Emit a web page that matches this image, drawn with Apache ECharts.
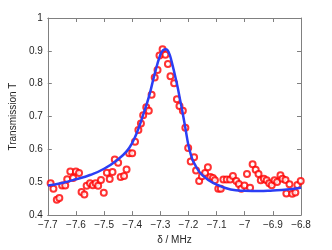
<!DOCTYPE html>
<html><head><meta charset="utf-8">
<script src="https://cdn.jsdelivr.net/npm/echarts@6/dist/echarts.min.js"></script>
<style>html,body{margin:0;padding:0;background:#fff}#c{width:332px;height:250px}</style>
</head><body><div id="c"></div>
<script>
const dataX = [-7.690,-7.680,-7.668,-7.659,-7.649,-7.638,-7.631,-7.620,-7.610,-7.600,-7.589,-7.580,-7.570,-7.562,-7.550,-7.540,-7.530,-7.521,-7.511,-7.501,-7.490,-7.480,-7.470,-7.462,-7.450,-7.441,-7.429,-7.420,-7.411,-7.400,-7.390,-7.378,-7.369,-7.361,-7.350,-7.341,-7.331,-7.320,-7.310,-7.303,-7.292,-7.282,-7.273,-7.264,-7.251,-7.241,-7.232,-7.220,-7.211,-7.201,-7.192,-7.180,-7.173,-7.162,-7.152,-7.141,-7.131,-7.122,-7.113,-7.106,-7.094,-7.085,-7.076,-7.064,-7.052,-7.042,-7.030,-7.021,-7.012,-7.001,-6.992,-6.981,-6.972,-6.961,-6.951,-6.943,-6.932,-6.922,-6.913,-6.904,-6.894,-6.885,-6.873,-6.866,-6.855,-6.852,-6.841,-6.831,-6.820,-6.813,-6.801];
const dataY = [0.497,0.480,0.447,0.452,0.490,0.490,0.509,0.533,0.513,0.533,0.528,0.470,0.463,0.489,0.497,0.491,0.497,0.489,0.507,0.468,0.529,0.510,0.531,0.569,0.559,0.516,0.519,0.539,0.588,0.588,0.623,0.659,0.679,0.704,0.728,0.718,0.766,0.819,0.842,0.886,0.905,0.888,0.860,0.823,0.801,0.753,0.732,0.718,0.666,0.604,0.563,0.576,0.536,0.504,0.518,0.528,0.546,0.516,0.513,0.506,0.480,0.480,0.508,0.508,0.508,0.519,0.504,0.495,0.480,0.490,0.525,0.483,0.555,0.538,0.525,0.506,0.511,0.506,0.497,0.491,0.506,0.501,0.521,0.511,0.507,0.466,0.494,0.465,0.469,0.492,0.504];
const fitX = [-7.70,-7.65,-7.60,-7.55,-7.50,-7.45,-7.42,-7.40,-7.38,-7.36,-7.34,-7.32,-7.30,-7.29,-7.28,-7.27,-7.26,-7.24,-7.23,-7.22,-7.21,-7.20,-7.19,-7.18,-7.15,-7.10,-7.05,-7.00,-6.95,-6.90,-6.85,-6.80];
const fitY = [0.490,0.498,0.509,0.522,0.541,0.570,0.594,0.620,0.658,0.708,0.762,0.830,0.888,0.902,0.905,0.895,0.868,0.795,0.752,0.708,0.660,0.612,0.580,0.558,0.521,0.493,0.478,0.474,0.473,0.475,0.478,0.483];
const xTicks = {min: -7.7, max: -6.8, step: 0.1};
const yTicks = {min: 0.4, max: 1.0, step: 0.1};

const fmtX = v => { const s = (Math.round(v*10)/10).toString(); return s.replace('-', '\u2212'); };
const fmtY = v => (Math.round(v*10)/10).toString();
const axLine = {lineStyle:{color:'#808080', width:1}};
const tick = {inside:true, length:4, lineStyle:{color:'#808080'}};
const lbl = {color:'#262626', fontSize:10, fontFamily:'Liberation Sans, Arial, sans-serif'};

const chart = echarts.init(document.getElementById('c'), null, {renderer:'canvas'});
chart.setOption({
  animation:false,
  grid:{left:43, right:31, top:18, bottom:29},
  xAxis:[{
    type:'value', min:xTicks.min, max:xTicks.max, interval:xTicks.step,
    axisLine:axLine, axisTick:tick, splitLine:{show:false},
    axisLabel:Object.assign({formatter:fmtX, margin:5, showMinLabel:true, showMaxLabel:true}, lbl),
    name:'\u03b4 / MHz', nameLocation:'middle', nameGap:17,
    nameTextStyle:{color:'#262626', fontSize:10, fontFamily:'Liberation Sans, Arial, sans-serif'}
  },{
    type:'value', position:'top', min:xTicks.min, max:xTicks.max, interval:xTicks.step,
    axisLine:axLine, axisTick:tick, axisLabel:{show:false}, splitLine:{show:false}
  }],
  yAxis:[{
    type:'value', min:yTicks.min, max:yTicks.max, interval:yTicks.step,
    axisLine:axLine, axisTick:tick, splitLine:{show:false},
    axisLabel:Object.assign({formatter:fmtY, margin:5}, lbl),
    name:'Transmission T', nameLocation:'middle', nameGap:26,
    nameTextStyle:{color:'#262626', fontSize:10, fontFamily:'Liberation Sans, Arial, sans-serif'}
  },{
    type:'value', position:'right', min:yTicks.min, max:yTicks.max, interval:yTicks.step,
    axisLine:axLine, axisTick:tick, axisLabel:{show:false}, splitLine:{show:false}
  }],
  series:[{
    type:'scatter', symbol:'circle', symbolSize:6,
    itemStyle:{color:'#ffffff', borderColor:'#ff0000', borderWidth:2},
    data:dataX.map((x,i)=>[x,dataY[i]]), z:2
  },{
    type:'line', smooth:0.5, showSymbol:false,
    lineStyle:{color:'#2b3ef5', width:2.5},
    data:fitX.map((x,i)=>[x,fitY[i]]), z:3
  }]
});
</script></body></html>
